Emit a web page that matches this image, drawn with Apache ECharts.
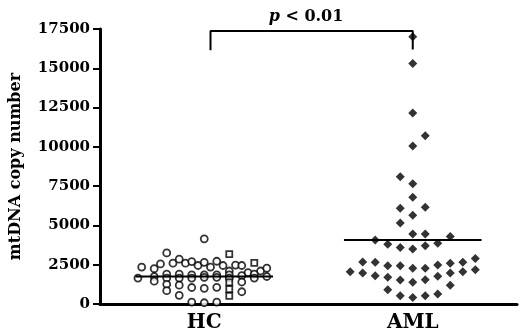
<!DOCTYPE html>
<html>
<head>
<meta charset="utf-8">
<script src="https://cdn.jsdelivr.net/npm/echarts@6/dist/echarts.min.js"></script>
<style>
  html, body { margin: 0; padding: 0; background: #fff; }
  #chart { width: 520px; height: 333px; }
</style>
</head>
<body>
<div id="chart"></div>
<script>
// groups and axis
const categories = ['HC', 'AML'];
const yMin = 0, yMax = 17500, yStep = 2500;

// dot columns (in dot widths from group centre) and values
const hcCol = [0, -3,
  -5, -4, -3.5, -2.5, -2, -1.5, -1, -0.5, 0, 0.5, 1, 1.5, 2, 2.5, 3, 3.5, 4.5, 5,
  -5.3, -4, -3, -3, -2, -2, -1, -1, 0, 0, 1, 1, 2, 2, 3, 4, 4, 5,
  -4, -3, -3, -2, -2, -1, 0, 1, 3, 3,
  -1, 0, 1];
const hcVal = [4150, 3250,
  2350, 2250, 2550, 2600, 2850, 2600, 2700, 2450, 2650, 2350, 2720, 2450, 2100, 2480, 2450, 2000, 2100, 2280,
  1650, 1750, 1900, 1650, 1900, 1650, 1850, 1650, 1850, 1700, 1850, 1700, 1850, 1650, 1800, 1900, 1650, 1750,
  1450, 1250, 850, 1200, 550, 1050, 1000, 1060, 1400, 780,
  120, 80, 120];
// the few open squares in HC
const hcSqCol = [2, 4, 2, 2, 2];
const hcSqVal = [3180, 2620, 1380, 950, 520];

const amlCol = [0, 0, 0, 1, 0, -1, 0, 0, -1, 1, 0, -1,
  0, 1, 3, -3, -2, -1, 0, 1, 2,
  -4, -3, -2, -1, 0, 1, 2, 3, 4, 5,
  -5, -4, -3, -2, -1, 0, 1, 2, 3, 4, 5,
  -2, 3, -1, 0, 1, 2];
const amlVal = [17000, 15300, 12150, 10700, 10050, 8100, 7650, 6800, 6100, 6150, 5650, 5150,
  4450, 4450, 4300, 4080, 3800, 3600, 3500, 3700, 3870,
  2680, 2650, 2430, 2430, 2270, 2270, 2480, 2600, 2650, 2900,
  2050, 1970, 1800, 1700, 1520, 1380, 1540, 1760, 1970, 2050, 2180,
  900, 1200, 530, 420, 530, 640];

// median bars
const medians = [1750, 4080];
const medianHalfWidth = 0.33;

// significance bracket
const bracketX = [0.03, 0.03, 1.0, 1.0];
const bracketY = [16150, 17380, 17380, 16200];

const colStep = 0.06;
const serif = '"DejaVu Serif", "Liberation Serif", serif';

function toPoints(group, cols, vals) {
    return cols.map((c, i) => [group + c * colStep, vals[i]]);
}

var chart = echarts.init(document.getElementById('chart'));
var option = {
    animation: false,
    backgroundColor: '#fff',
    title: {
        text: '{i|p} < 0.01',
        left: 301,
        top: 4,
        textAlign: 'center',
        textStyle: {
            fontFamily: serif,
            fontWeight: 'bold',
            fontSize: 16,
            color: '#000',
            rich: {
                i: { fontFamily: serif, fontWeight: 'bold', fontStyle: 'italic', fontSize: 16, color: '#000' }
            }
        }
    },
    grid: { left: 100, right: 3, top: 29, bottom: 28 },
    xAxis: [{
        type: 'category',
        data: categories,
        axisLine: { lineStyle: { color: '#000', width: 3 } },
        axisTick: { show: false },
        axisLabel: {
            margin: 9,
            color: '#000',
            fontFamily: serif,
            fontWeight: 'bold',
            fontSize: 20
        }
    }, {
        type: 'value',
        min: -0.5,
        max: 1.5,
        show: false
    }],
    yAxis: {
        type: 'value',
        min: yMin,
        max: yMax,
        interval: yStep,
        name: 'mtDNA copy number',
        nameLocation: 'middle',
        nameGap: 76,
        nameTextStyle: {
            color: '#000',
            fontFamily: serif,
            fontWeight: 'bold',
            fontSize: 16
        },
        axisLine: { show: true, onZero: false, lineStyle: { color: '#000', width: 3 } },
        axisTick: { show: true, length: 7, lineStyle: { color: '#000', width: 2 } },
        splitLine: { show: false },
        axisLabel: {
            margin: 10,
            color: '#000',
            fontFamily: serif,
            fontWeight: 'bold',
            fontSize: 15,
            formatter: v => String(v)
        }
    },
    series: [{
        name: 'HC',
        type: 'scatter',
        xAxisIndex: 1,
        symbol: 'circle',
        symbolSize: 7,
        itemStyle: { color: '#fff', borderColor: '#000', borderWidth: 1.8 },
        data: toPoints(0, hcCol, hcVal)
    }, {
        name: 'HC squares',
        type: 'scatter',
        xAxisIndex: 1,
        symbol: 'rect',
        symbolSize: 6,
        itemStyle: { color: '#fff', borderColor: '#000', borderWidth: 1.8 },
        data: toPoints(0, hcSqCol, hcSqVal)
    }, {
        name: 'AML',
        type: 'scatter',
        xAxisIndex: 1,
        symbol: 'diamond',
        symbolSize: 9,
        itemStyle: { color: '#000' },
        data: toPoints(1, amlCol, amlVal)
    }].concat(medians.map((m, g) => ({
        type: 'line',
        xAxisIndex: 1,
        symbol: 'none',
        lineStyle: { color: '#000', width: 2 },
        data: [[g - medianHalfWidth, m], [g + medianHalfWidth, m]]
    }))).concat([{
        type: 'line',
        xAxisIndex: 1,
        symbol: 'none',
        lineStyle: { color: '#000', width: 2 },
        data: bracketX.map((x, i) => [x, bracketY[i]])
    }])
};
chart.setOption(option);
</script>
</body>
</html>
